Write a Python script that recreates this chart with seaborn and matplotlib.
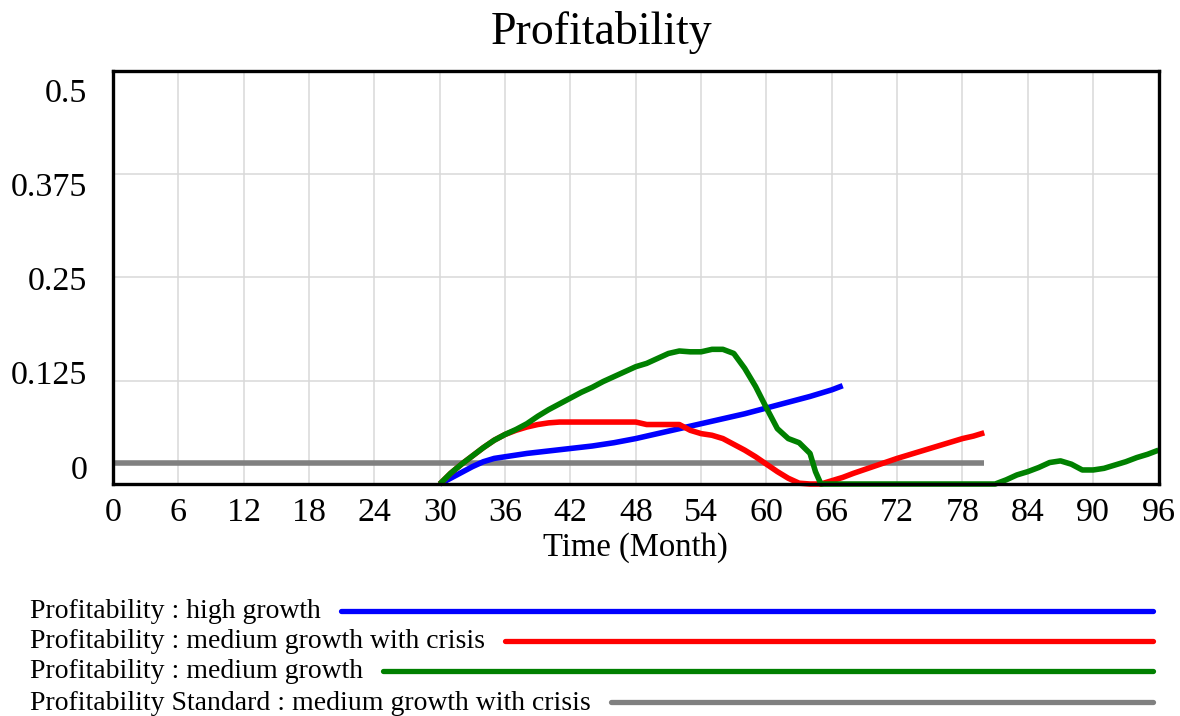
import numpy as np
import pandas as pd
import matplotlib
matplotlib.use('Agg')
import matplotlib.pyplot as plt
from matplotlib.lines import Line2D
from matplotlib.transforms import ScaledTranslation
import seaborn as sns

# ------------------------------------------------------------------
# Data
# ------------------------------------------------------------------
high_months = [30, 31, 32, 33, 34, 35, 36, 37, 38, 40, 42, 44, 46, 48, 50,
               52, 54, 56, 58, 60, 62, 64, 66, 67]
high_values = [0.0, 0.007, 0.014, 0.021, 0.027, 0.031, 0.033, 0.035, 0.037,
               0.040, 0.043, 0.046, 0.050, 0.055, 0.061, 0.067, 0.073, 0.079,
               0.085, 0.092, 0.099, 0.106, 0.114, 0.119]

crisis_months = [30, 31, 32, 33, 34, 35, 36, 37, 38, 39, 40, 41, 48, 49, 52,
                 53, 54, 55, 56, 57, 58, 59, 60, 61, 62, 63, 64, 65, 66, 67,
                 68, 70, 72, 74, 76, 78, 79, 80]
crisis_values = [0.0, 0.013, 0.024, 0.034, 0.044, 0.053, 0.060, 0.065, 0.069,
                 0.072, 0.074, 0.075, 0.075, 0.072, 0.072, 0.065, 0.061, 0.059,
                 0.055, 0.048, 0.041, 0.033, 0.024, 0.015, 0.007, 0.001, 0.0,
                 0.0, 0.004, 0.008, 0.013, 0.022, 0.031, 0.039, 0.047, 0.055,
                 0.058, 0.062]

medium_months = [30, 31, 32, 33, 34, 35, 36, 37, 38, 39, 40, 41, 42, 43, 44,
                 45, 46, 47, 48, 49, 50, 51, 52, 53, 54, 55, 56, 57, 58, 59,
                 60, 61, 62, 63, 64, 64.5, 65, 81, 82, 83, 84, 85, 86, 87, 88,
                 89, 90, 91, 92, 93, 94, 95, 96]
medium_values = [0.0, 0.013, 0.024, 0.034, 0.044, 0.053, 0.060, 0.066, 0.073,
                 0.082, 0.090, 0.097, 0.104, 0.111, 0.117, 0.124, 0.130, 0.136,
                 0.142, 0.146, 0.152, 0.158, 0.161, 0.160, 0.160, 0.163, 0.163,
                 0.158, 0.140, 0.118, 0.092, 0.067, 0.055, 0.050, 0.037, 0.015,
                 0.0, 0.0, 0.005, 0.011, 0.015, 0.020, 0.026, 0.028, 0.024,
                 0.017, 0.017, 0.019, 0.023, 0.027, 0.032, 0.036, 0.041]

standard_months = [0, 80]
standard_values = [0.025, 0.025]

series_names = ['Profitability : high growth',
                'Profitability : medium growth with crisis',
                'Profitability : medium growth',
                'Profitability Standard : medium growth with crisis']
series_colors = ['#0000ff', '#ff0000', '#008000', '#808080']

x_ticks = list(range(0, 97, 6))
y_ticks = [0, 0.125, 0.25, 0.375, 0.5]
y_labels = ['0', '0.125', '0.25', '0.375', '0.5']

frames = []
for name, m, v in zip(series_names,
                      [high_months, crisis_months, medium_months, standard_months],
                      [high_values, crisis_values, medium_values, standard_values]):
    frames.append(pd.DataFrame({'month': m, 'value': v, 'series': name}))
df = pd.concat(frames, ignore_index=True)

# ------------------------------------------------------------------
# Plot
# ------------------------------------------------------------------
sns.set_theme(style='white')
plt.rcParams['font.family'] = ['Liberation Serif', 'DejaVu Serif']

fig = plt.figure(figsize=(11.8, 7.16), dpi=100)
ax = fig.add_axes([0.0958, 0.324, 0.886, 0.577])

# draw standard line first so others sit on top
order = [series_names[3], series_names[0], series_names[1], series_names[2]]
for name in order:
    sub = df[df['series'] == name]
    sns.lineplot(data=sub, x='month', y='value', ax=ax, estimator=None,
                 sort=False, color=series_colors[series_names.index(name)],
                 lw=4.0, legend=False, clip_on=False, solid_capstyle='butt')

ax.set_xlim(0, 96)
ax.set_ylim(0, 0.5)
ax.set_xticks(x_ticks)
ax.set_xticklabels([str(t) for t in x_ticks], fontsize=24.5)
ax.set_yticks(y_ticks)
ax.set_yticklabels(y_labels, fontsize=24.5)
ax.tick_params(axis='both', length=0, colors='black')
ax.tick_params(axis='x', pad=10)
ax.tick_params(axis='y', pad=18.5)
ax.grid(True, color='#d9d9d9', lw=1.1)
ax.set_axisbelow(True)
for sp in ax.spines.values():
    sp.set_color('black')
    sp.set_linewidth(2.4)
ax.set_xlabel('Time (Month)', fontsize=23.5, labelpad=3, color='black')
ax.set_ylabel('')
fig.text(601 / 1180, 0.955, 'Profitability', ha='center', va='center',
         fontsize=33, color='black')

# Vensim spreads the y labels evenly inside the frame
for k, lab in enumerate(ax.get_yticklabels()):
    shift_px = -17 + 9 * k
    lab.set_transform(lab.get_transform() +
                      ScaledTranslation(0, -shift_px / 100, fig.dpi_scale_trans))

# ------------------------------------------------------------------
# Legend rows: text followed by a long sample line
# ------------------------------------------------------------------
row_y = [612, 642, 672, 703]
texts = []
for name, y in zip(series_names, row_y):
    texts.append(fig.text(30 / 1180, 1 - y / 716, name, ha='left', va='center',
                          fontsize=20, color='black'))
fig.canvas.draw()
renderer = fig.canvas.get_renderer()
for t, col, y in zip(texts, series_colors, row_y):
    bb = t.get_window_extent(renderer)
    x0 = (bb.x1 + 20) / fig.bbox.width
    fig.add_artist(Line2D([x0, 1153 / 1180], [1 - y / 716 + 0.001] * 2,
                          transform=fig.transFigure, color=col, lw=3.8))

fig.savefig('out.png', dpi=100)
